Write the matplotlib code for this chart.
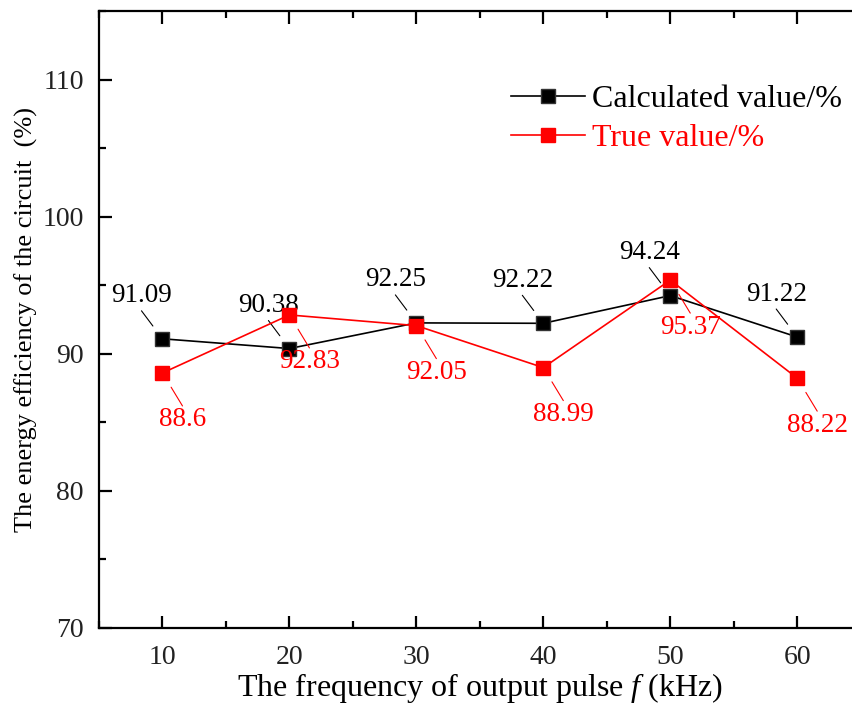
import matplotlib
matplotlib.use('Agg')
import matplotlib.pyplot as plt
from matplotlib.ticker import MultipleLocator

plt.rcParams['font.family'] = ['Liberation Serif', 'DejaVu Serif']
plt.rcParams['mathtext.fontset'] = 'custom'
plt.rcParams['mathtext.it'] = 'Liberation Serif:italic'
plt.rcParams['mathtext.rm'] = 'Liberation Serif'

# data
freq = [10, 20, 30, 40, 50, 60]
calculated = [91.09, 90.38, 92.25, 92.22, 94.24, 91.22]
true_vals = [88.6, 92.83, 92.05, 88.99, 95.37, 88.22]
calc_labels = ['91.09', '90.38', '92.25', '92.22', '94.24', '91.22']
true_labels = ['88.6', '92.83', '92.05', '88.99', '95.37', '88.22']

fig = plt.figure(figsize=(8.52, 7.06), dpi=100)
ax = fig.add_axes([0.1162, 0.1105, 0.894, 0.874])

ax.plot(freq, calculated, color='black', lw=1.2, marker='s', ms=10,
        mfc='black', mec='#333333', label='Calculated value/%', zorder=3)
ax.plot(freq, true_vals, color='red', lw=1.2, marker='s', ms=10,
        mfc='red', mec='red', label='True value/%', zorder=4)

for x, y, s in zip(freq, calculated, calc_labels):
    ax.annotate(s, (x, y), xytext=(-21, 43), textcoords='offset pixels',
                ha='center', va='center', fontsize=19.5, color='black')
    ax.annotate('', (x, y), xytext=(-21, 28), textcoords='offset pixels',
                arrowprops=dict(arrowstyle='-', color='black', lw=0.8,
                                shrinkA=0, shrinkB=11.5))

for x, y, s in zip(freq, true_vals, true_labels):
    ax.annotate(s, (x, y), xytext=(20, -47), textcoords='offset pixels',
                ha='center', va='center', fontsize=19.5, color='red')
    ax.annotate('', (x, y), xytext=(20, -33), textcoords='offset pixels',
                arrowprops=dict(arrowstyle='-', color='red', lw=0.8,
                                shrinkA=0, shrinkB=12))

ax.set_xlim(5, 65)
ax.set_ylim(70, 115)
ax.xaxis.set_major_locator(MultipleLocator(10))
ax.xaxis.set_minor_locator(MultipleLocator(5))
ax.yaxis.set_major_locator(MultipleLocator(10))
ax.yaxis.set_minor_locator(MultipleLocator(5))
ax.set_yticks([70, 80, 90, 100, 110])

for side in ['left', 'bottom', 'top']:
    ax.spines[side].set_linewidth(1.6)
ax.spines['right'].set_visible(False)

ax.tick_params(axis='x', which='both', direction='in', top=True, bottom=True,
               width=1.6, labelsize=20, pad=12, labelcolor='#222222')
ax.tick_params(axis='y', which='both', direction='in', left=True, right=False,
               width=1.6, labelsize=20, pad=11, labelcolor='#222222')
ax.tick_params(which='major', length=9)
ax.tick_params(which='minor', length=5)

ax.set_xlabel('The frequency of output pulse $\\it{f}$ (kHz)', fontsize=23, labelpad=1)
ax.set_ylabel('The energy efficiency of the circuit  (%)', fontsize=19)
ax.yaxis.set_label_coords(-0.080, 0.5)

ax.legend(loc='upper left', bbox_to_anchor=(0.541, 0.88), frameon=False,
          fontsize=23, handlelength=2.3, handletextpad=0.22, labelspacing=0.3,
          borderpad=0, borderaxespad=0, labelcolor='linecolor')

fig.savefig('out.png', dpi=100)
